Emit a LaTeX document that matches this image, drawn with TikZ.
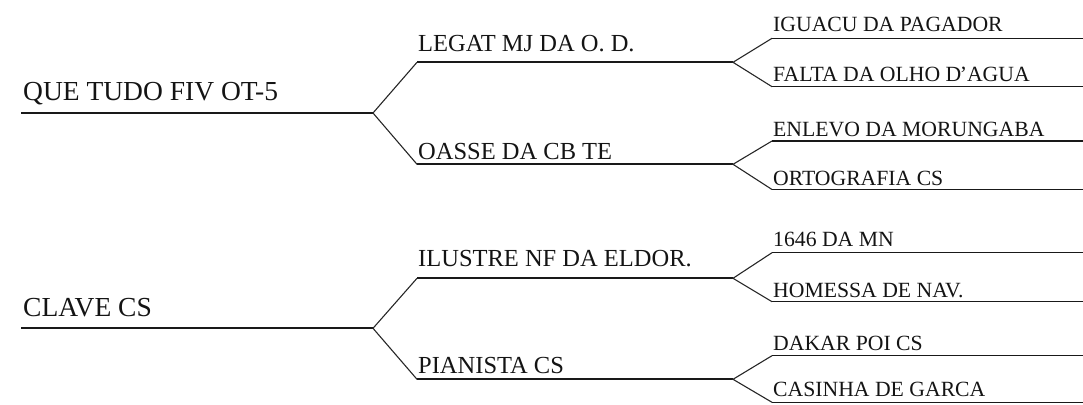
\documentclass[tikz,border=0pt]{standalone}
\usepackage{fontspec}
\setmainfont{Liberation Serif}
\begin{document}
\begin{tikzpicture}[x=1pt,y=-1pt,
  lab/.style={anchor=base west,inner sep=0pt,text=black!92,font=\fontsize{#1}{#1}\selectfont},
  lone/.style={line width=2.2pt,black!90},
  ltwo/.style={line width=1.9pt,black!90},
  lthree/.style={line width=1.4pt,black!90},
  diag/.style={line width=1.1pt,black!85,line join=miter}]
\useasboundingbox (0,0) rectangle (1083,404);
% coordinates (line ends)
\coordinate (r1s) at (21,113);   \coordinate (r1e) at (373,113);
\coordinate (a1s) at (417,62.3); \coordinate (a1e) at (733,62.3);
\coordinate (a2s) at (417,164.3);\coordinate (a2e) at (733,164.3);
\coordinate (b1s) at (772,38.3); \coordinate (b1e) at (1083,38.3);
\coordinate (b2s) at (772,86.7); \coordinate (b2e) at (1083,86.7);
\coordinate (b3s) at (772,141);  \coordinate (b3e) at (1083,141);
\coordinate (b4s) at (772,189.5);\coordinate (b4e) at (1083,189.5);
\coordinate (r2s) at (21,328.3); \coordinate (r2e) at (373,328.3);
\coordinate (a3s) at (417,278.3);\coordinate (a3e) at (733,278.3);
\coordinate (a4s) at (417,379.3);\coordinate (a4e) at (733,379.3);
\coordinate (b5s) at (772,252.7);\coordinate (b5e) at (1083,252.7);
\coordinate (b6s) at (772,301.7);\coordinate (b6e) at (1083,301.7);
\coordinate (b7s) at (772,355.7);\coordinate (b7e) at (1083,355.7);
\coordinate (b8s) at (772,402.3);\coordinate (b8e) at (1083,402.3);
% texts
\node[lab=27.5] (t1) at (23,100) {QUE TUDO FIV OT-5};
\node[lab=24.5] (t2) at (418,51.7) {LEGAT MJ DA O. D.};
\node[lab=24.5] (t3) at (418,159.3) {OASSE DA CB TE};
\node[lab=21.7] (t4) at (773,31.7) {IGUACU DA PAGADOR};
\node[lab=21.7] (t5) at (773,81.7) {FALTA DA OLHO D\kern-1.5pt’AGUA};
\node[lab=21.7] (t6) at (773,136) {ENLEVO DA MORUNGABA};
\node[lab=21.7] (t7) at (773,185) {ORTOGRAFIA CS};
\node[lab=27.5] (t8) at (23,316) {CLAVE CS};
\node[lab=24.5] (t9) at (418,266.7) {ILUSTRE NF DA ELDOR.};
\node[lab=24.5] (t10) at (418,373.3) {PIANISTA CS};
\node[lab=21.7] (t11) at (773,246) {1646 DA MN};
\node[lab=21.7] (t12) at (773,297.3) {HOMESSA DE NAV.};
\node[lab=21.7] (t13) at (773,350) {DAKAR POI CS};
\node[lab=21.7] (t14) at (773,396.7) {CASINHA DE GARCA};
% horizontal lines
\draw[lone] (r1s) -- (r1e);
\draw[lone] (r2s) -- (r2e);
\foreach \n in {a1,a2,a3,a4}{\draw[ltwo] (\n s) -- (\n e);}
\foreach \n in {b1,b2,b3,b4,b5,b6,b7,b8}{\draw[lthree] (\n s) -- (\n e);}
% forks
\draw[diag] (a1s) -- (r1e) -- (a2s);
\draw[diag] (a3s) -- (r2e) -- (a4s);
\draw[diag] (b1s) -- (a1e) -- (b2s);
\draw[diag] (b3s) -- (a2e) -- (b4s);
\draw[diag] (b5s) -- (a3e) -- (b6s);
\draw[diag] (b7s) -- (a4e) -- (b8s);
\end{tikzpicture}
\end{document}
